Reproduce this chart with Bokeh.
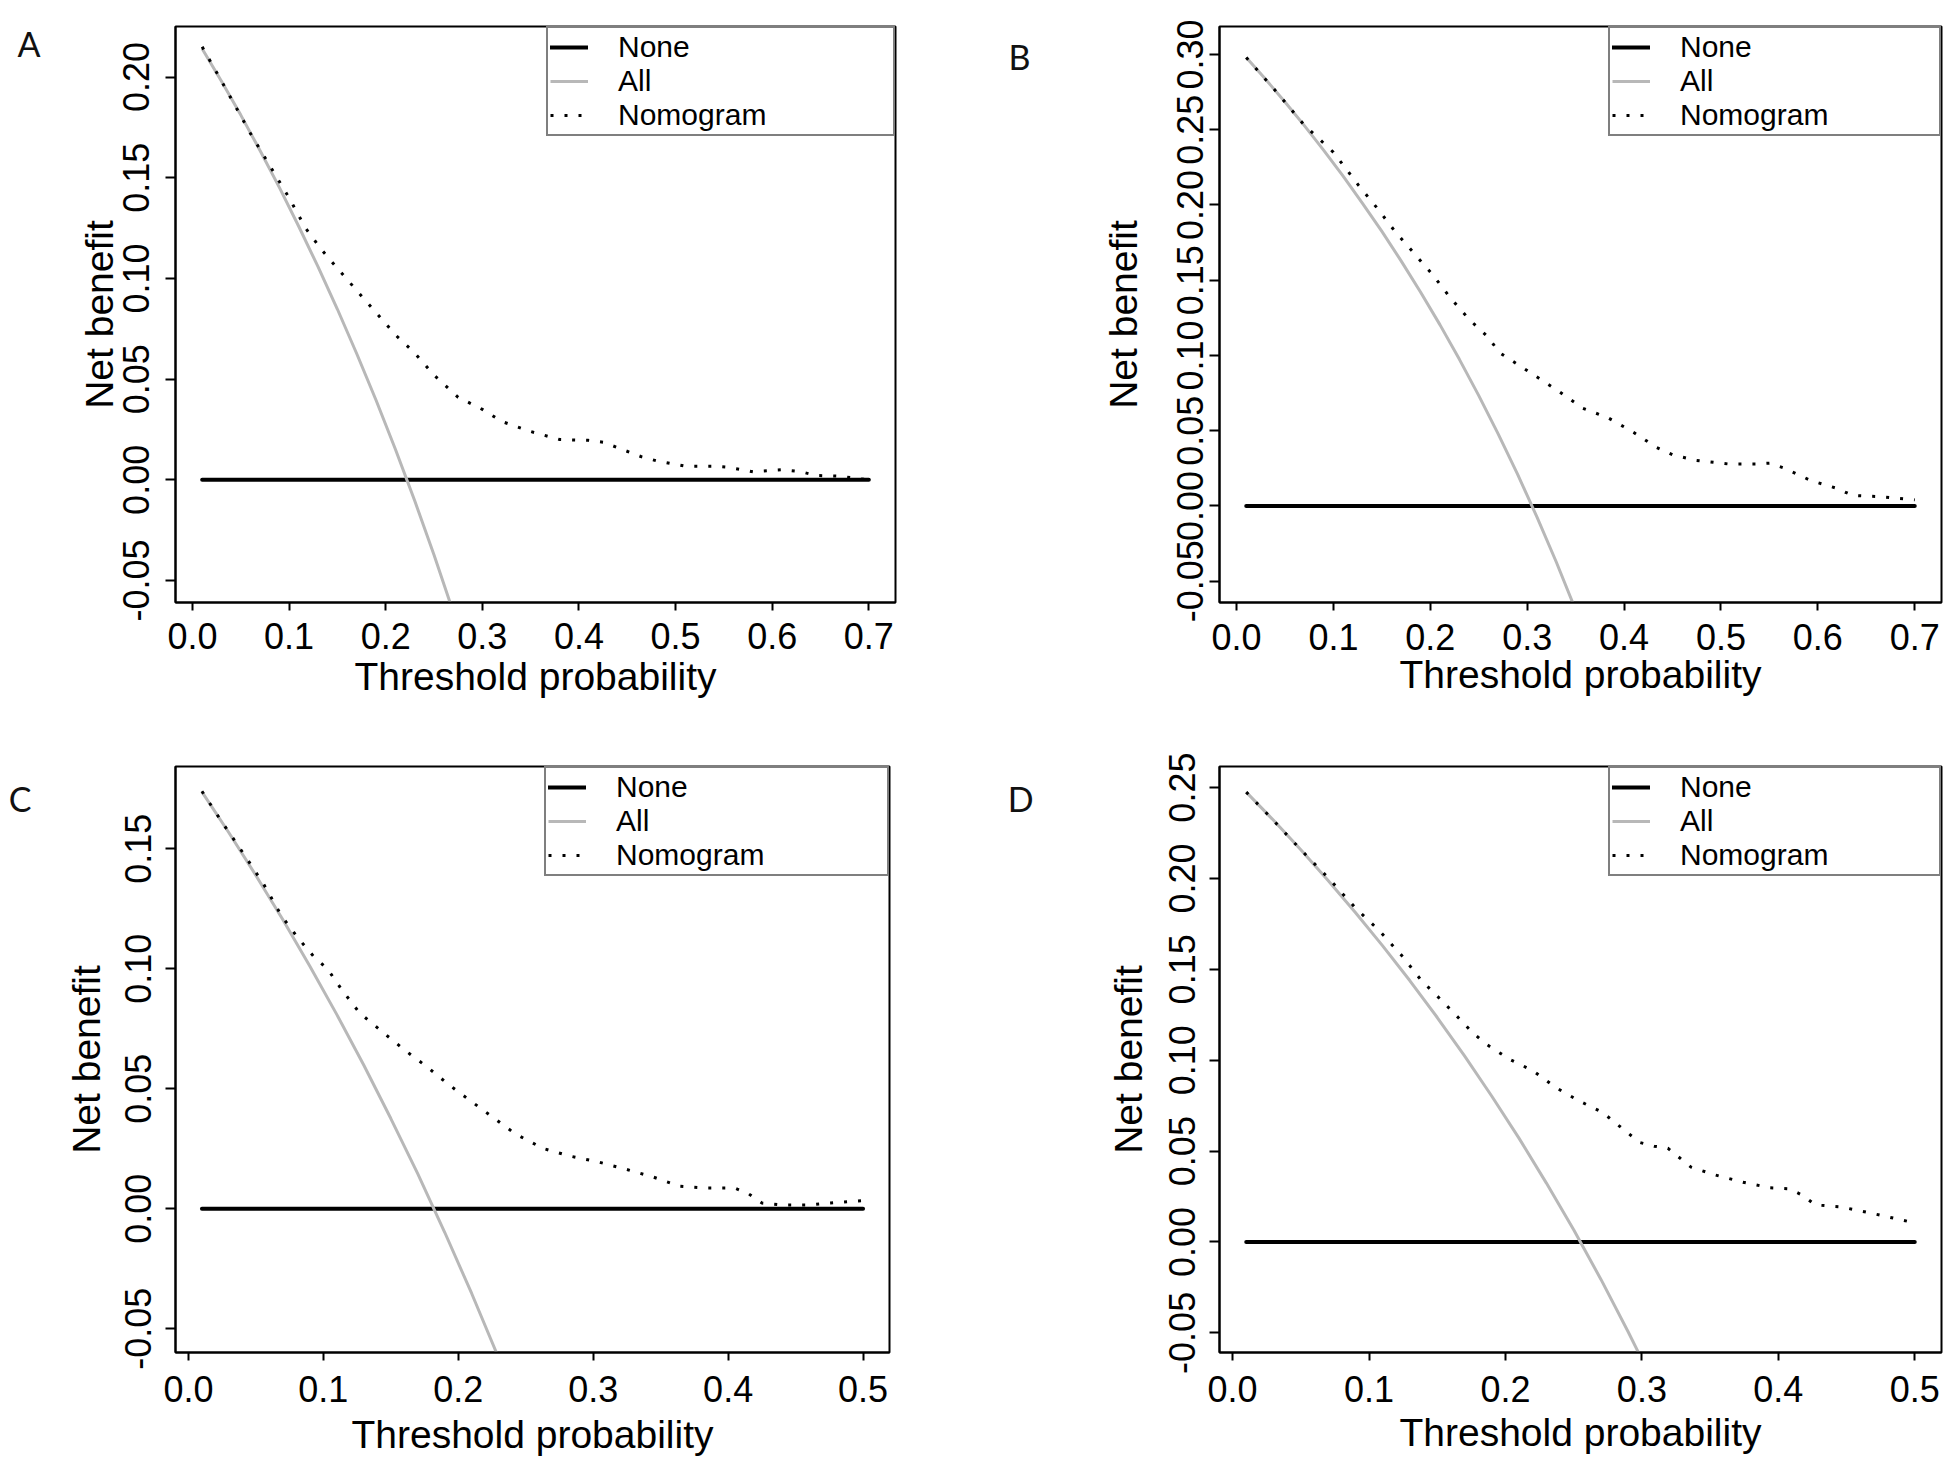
import math
from bokeh.plotting import figure
from bokeh.models import (Range1d, FixedTicker, PrintfTickFormatter, Legend, LegendItem,
                          LinearAxis)
from bokeh.layouts import row, column
from bokeh.embed import file_html
from bokeh.resources import INLINE

# ---------------- data ----------------
# Panel A
A_none_x = [0.01, 0.70]
A_none_y = [0.0, 0.0]
A_all_x = [0.01, 0.03, 0.05, 0.07, 0.09, 0.11, 0.13, 0.15, 0.17, 0.19, 0.21, 0.23, 0.25, 0.27, 0.29]
A_all_y = [0.2141, 0.1979, 0.1811, 0.1634, 0.1451, 0.1258, 0.1057, 0.0847, 0.0626, 0.0395, 0.0152, -0.0104, -0.0373, -0.0658, -0.0958]
A_nom_x = [0.01, 0.03, 0.06, 0.08, 0.10, 0.117, 0.134, 0.15, 0.17, 0.19, 0.21, 0.23, 0.25, 0.275, 0.30, 0.32,
           0.35, 0.38, 0.41, 0.425, 0.44, 0.465, 0.48, 0.51, 0.54, 0.555, 0.58, 0.61, 0.63, 0.645, 0.67, 0.70]
A_nom_y = [0.215, 0.198, 0.172, 0.156, 0.140, 0.125, 0.114, 0.105, 0.094, 0.083, 0.072, 0.063, 0.052, 0.041, 0.035, 0.029,
           0.024, 0.020, 0.0196, 0.0187, 0.016, 0.0114, 0.0095, 0.0068, 0.0068, 0.0062, 0.0040, 0.0050, 0.0040, 0.0022, 0.0018, 0.0]

# Panel B
B_none_x = [0.01, 0.70]
B_none_y = [0.0, 0.0]
B_all_x = [0.01, 0.03, 0.05, 0.07, 0.09, 0.11, 0.13, 0.15, 0.17, 0.19, 0.21, 0.23, 0.25, 0.27, 0.29, 0.31, 0.33, 0.35, 0.37]
B_all_y = [0.2980, 0.2835, 0.2684, 0.2527, 0.2363, 0.2191, 0.2011, 0.1824, 0.1627, 0.1420, 0.1203, 0.0974, 0.0733, 0.0479,
           0.0211, -0.0073, -0.0373, -0.0692, -0.1032]
B_nom_x = [0.01, 0.04, 0.07, 0.10, 0.126, 0.145, 0.164, 0.183, 0.202, 0.221, 0.24, 0.26, 0.271, 0.283, 0.307, 0.333,
           0.357, 0.383, 0.41, 0.433, 0.45, 0.474, 0.507, 0.536, 0.55, 0.564, 0.593, 0.619, 0.636, 0.664, 0.70]
B_nom_y = [0.298, 0.276, 0.253, 0.235, 0.213, 0.198, 0.182, 0.168, 0.154, 0.138, 0.124, 0.112, 0.102, 0.097, 0.087, 0.076,
           0.065, 0.0587, 0.0488, 0.039, 0.034, 0.0303, 0.0279, 0.0279, 0.0284, 0.0254, 0.0168, 0.0118, 0.0069, 0.0062, 0.0040]

# Panel C
C_none_x = [0.01, 0.50]
C_none_y = [0.0, 0.0]
C_all_x = [0.01, 0.03, 0.05, 0.07, 0.09, 0.11, 0.13, 0.15, 0.17, 0.19, 0.21, 0.23, 0.25]
C_all_y = [0.1737, 0.1567, 0.1389, 0.1204, 0.1011, 0.0809, 0.0598, 0.0376, 0.0145, -0.0099, -0.0354, -0.0623, -0.0907]
C_nom_x = [0.01, 0.025, 0.042, 0.056, 0.069, 0.081, 0.093, 0.103, 0.114, 0.127, 0.144, 0.161, 0.176, 0.193, 0.208, 0.225,
           0.242, 0.263, 0.283, 0.303, 0.324, 0.344, 0.364, 0.385, 0.405, 0.415, 0.425, 0.44, 0.46, 0.476, 0.50]
C_nom_y = [0.174, 0.161, 0.147, 0.135, 0.122, 0.113, 0.105, 0.100, 0.091, 0.0815, 0.0736, 0.0658, 0.0595, 0.0517, 0.0454, 0.0384,
           0.0313, 0.0251, 0.0219, 0.0196, 0.0165, 0.0133, 0.0094, 0.0086, 0.0086, 0.0063, 0.0024, 0.0016, 0.0016, 0.0024, 0.0034]

# Panel D
D_none_x = [0.01, 0.50]
D_none_y = [0.0, 0.0]
D_all_x = [0.01, 0.03, 0.05, 0.07, 0.09, 0.11, 0.13, 0.15, 0.17, 0.19, 0.21, 0.23, 0.25, 0.27, 0.29, 0.31]
D_all_y = [0.2475, 0.2320, 0.2158, 0.1989, 0.1813, 0.1629, 0.1437, 0.1235, 0.1024, 0.0802, 0.0570, 0.0324, 0.0067,
           -0.0206, -0.0495, -0.0798]
D_nom_x = [0.01, 0.029, 0.049, 0.07, 0.09, 0.1075, 0.125, 0.138, 0.152, 0.1655, 0.176, 0.186, 0.203, 0.22, 0.237, 0.254,
           0.271, 0.288, 0.2986, 0.309, 0.319, 0.336, 0.353, 0.374, 0.394, 0.408, 0.418, 0.427, 0.445, 0.466, 0.50]
D_nom_y = [0.2475, 0.2327, 0.2166, 0.2004, 0.1838, 0.1713, 0.1567, 0.1442, 0.1338, 0.1234, 0.1151, 0.1088, 0.1005, 0.0943,
           0.0849, 0.0776, 0.0714, 0.061, 0.0547, 0.0527, 0.0516, 0.0412, 0.037, 0.0329, 0.0298, 0.0293, 0.0256, 0.0204,
           0.0194, 0.0162, 0.0105]

X_TICKS_07 = [0.0, 0.1, 0.2, 0.3, 0.4, 0.5, 0.6, 0.7]
X_TICKS_05 = [0.0, 0.1, 0.2, 0.3, 0.4, 0.5]
A_Y_TICKS = [-0.05, 0.0, 0.05, 0.10, 0.15, 0.20]
B_Y_TICKS = [-0.05, 0.0, 0.05, 0.10, 0.15, 0.20, 0.25, 0.30]
C_Y_TICKS = [-0.05, 0.0, 0.05, 0.10, 0.15]
D_Y_TICKS = [-0.05, 0.0, 0.05, 0.10, 0.15, 0.20, 0.25]
LEGEND_LABELS = ["None", "All", "Nomogram"]
PANEL_LETTERS = ["A", "B", "C", "D"]
X_TITLE = "Threshold probability"
Y_TITLE = "Net benefit"

FONT = "Liberation Sans"
LETTER_FONT = "Lato"
INK = "#000000"


def make_panel(letter, xr, yr, xticks, yticks, none_xy, all_xy, nom_xy, size, borders,
               ysto, xsto, letter_pos, legend_w):
    W, H = size
    bl, br, bt, bb = borders
    p = figure(width=W, height=H, x_range=Range1d(*xr), y_range=Range1d(*yr), title=None,
               output_backend="svg", toolbar_location=None,
               min_border_left=bl, min_border_right=br, min_border_top=bt, min_border_bottom=bb)
    p.grid.visible = False
    p.outline_line_color = "black"
    p.outline_line_width = 2
    p.background_fill_color = "white"
    p.border_fill_color = "white"

    r_none = p.line(none_xy[0], none_xy[1], line_color="black", line_width=4, line_cap="round")
    r_all = p.line(all_xy[0], all_xy[1], line_color="#b8b8b8", line_width=3)
    r_nom = p.line(nom_xy[0], nom_xy[1], line_color="black", line_width=3, line_dash="3 11")

    for ax in (p.xaxis, p.yaxis):
        ax.axis_line_color = "black"
        ax.axis_line_width = 2
        ax.major_tick_in = 0
        ax.major_tick_line_width = 2
        ax.minor_tick_line_color = None
        ax.major_label_text_font = FONT
        ax.major_label_text_font_size = "36px"
        ax.major_label_text_color = INK
        ax.axis_label_text_font = FONT
        ax.axis_label_text_font_size = "39px"
        ax.axis_label_text_font_style = "normal"
        ax.axis_label_text_color = INK

    p.xaxis.major_tick_out = 8
    p.xaxis.ticker = FixedTicker(ticks=xticks)
    p.xaxis.formatter = PrintfTickFormatter(format="%.1f")
    p.xaxis.axis_label = X_TITLE
    p.xaxis.major_label_standoff = xsto[0]
    p.xaxis.axis_label_standoff = xsto[1]

    p.yaxis.major_tick_out = 10
    p.yaxis.ticker = FixedTicker(ticks=yticks)
    p.yaxis.formatter = PrintfTickFormatter(format="%.2f")
    p.yaxis.axis_label = Y_TITLE
    p.yaxis.major_label_orientation = "vertical"
    p.yaxis.major_label_standoff = ysto[0]
    p.yaxis.axis_label_standoff = ysto[1]

    # panel letter, drawn as the single label of an outer, line-less axis
    p.extra_y_ranges = {"letter": Range1d(0, 1)}
    lax = LinearAxis(y_range_name="letter", ticker=FixedTicker(ticks=[letter_pos[1]]),
                     major_label_overrides={letter_pos[1]: letter},
                     axis_line_color=None, major_tick_line_color=None, minor_tick_line_color=None,
                     major_tick_out=0, major_tick_in=0,
                     major_label_orientation="horizontal", major_label_standoff=letter_pos[0],
                     major_label_text_font=LETTER_FONT, major_label_text_font_size="34px",
                     major_label_text_color="#111111")
    p.add_layout(lax, "left")

    pad = 2
    glyph_w = 38
    standoff = 30
    legend = Legend(
        items=[LegendItem(label=LEGEND_LABELS[0], renderers=[r_none]),
               LegendItem(label=LEGEND_LABELS[1], renderers=[r_all]),
               LegendItem(label=LEGEND_LABELS[2], renderers=[r_nom])],
        location="top_right", margin=0, padding=pad, spacing=0,
        glyph_width=glyph_w, glyph_height=24, label_height=24,
        label_width=legend_w - 2 * pad - glyph_w - standoff, label_standoff=standoff,
        label_text_font=FONT, label_text_font_size="30px", label_text_color=INK,
        border_line_color="black", border_line_width=2,
        background_fill_color="white", background_fill_alpha=1.0,
    )
    p.add_layout(legend)
    return p


pA = make_panel(PANEL_LETTERS[0], (-0.0176, 0.7276), (-0.0609, 0.2251), X_TICKS_07, A_Y_TICKS,
                (A_none_x, A_none_y), (A_all_x, A_all_y), (A_nom_x, A_nom_y),
                (960, 730), (175, 65, 26, 128), (16, 0), (12, 3), (34, 0.970), 345)
pB = make_panel(PANEL_LETTERS[1], (-0.0176, 0.7276), (-0.0642, 0.3186), X_TICKS_07, B_Y_TICKS,
                (B_none_x, B_none_y), (B_all_x, B_all_y), (B_nom_x, B_nom_y),
                (984, 730), (259, 3, 26, 128), (6, 30), (13, 0), (68, 0.948), 329)
pC = make_panel(PANEL_LETTERS[2], (-0.0096, 0.5196), (-0.0599, 0.1843), X_TICKS_05, C_Y_TICKS,
                (C_none_x, C_none_y), (C_all_x, C_all_y), (C_nom_x, C_nom_y),
                (960, 735), (175, 71, 36, 113), (14, 15), (15, 8), (30, 0.945), 341)
pD = make_panel(PANEL_LETTERS[3], (-0.0096, 0.5196), (-0.0608, 0.2616), X_TICKS_05, D_Y_TICKS,
                (D_none_x, D_none_y), (D_all_x, D_all_y), (D_nom_x, D_nom_y),
                (984, 735), (259, 3, 36, 113), (14, 17), (15, 6), (70, 0.945), 329)

layout = column(row(pA, pB), row(pC, pD))
open("out.html", "w").write(file_html(layout, INLINE))
